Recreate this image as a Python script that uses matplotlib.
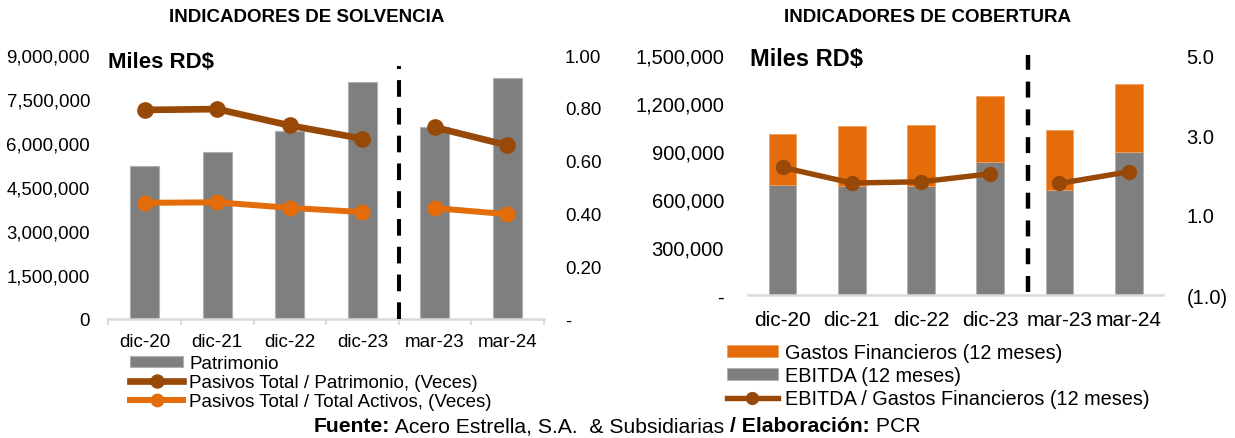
import matplotlib
matplotlib.use("Agg")
import matplotlib.pyplot as plt
import numpy as np
from matplotlib.ticker import FixedLocator, FuncFormatter

plt.rcParams['font.family'] = ['Liberation Sans', 'DejaVu Sans']
plt.rcParams['lines.scale_dashes'] = False

# ---------------- data ----------------
categories = ["dic-20", "dic-21", "dic-22", "dic-23", "mar-23", "mar-24"]

patrimonio = [5206000, 5690000, 6410000, 8070000, 6530000, 8230000]
pasivos_patrimonio = [0.792, 0.795, 0.733, 0.683, 0.726, 0.658]
pasivos_activos = [0.440, 0.442, 0.421, 0.405, 0.420, 0.397]

ebitda = [689000, 683000, 683000, 833000, 658000, 892000]
gastos_fin = [319000, 375000, 380000, 413000, 375000, 429000]
ebitda_gastos = [2.19, 1.80, 1.83, 2.03, 1.79, 2.08]

# ---------------- style ----------------
GRAY = '#7f7f7f'
BROWN = '#984807'
ORANGE = '#e46c0a'
AXGRAY = '#d9d9d9'

W, H = 1235, 439
fig = plt.figure(figsize=(W / 100, H / 100), dpi=100)


def px_axes(x0, x1, ytop, ybot):
    return fig.add_axes([x0 / W, (H - ybot) / H, (x1 - x0) / W, (ybot - ytop) / H])


x = np.arange(len(categories))
split = 4  # annual vs quarterly

# ================= LEFT: SOLVENCIA =================
axL = px_axes(108.5, 543.7, 56, 320)
axL.bar(x, patrimonio, width=0.4, color=GRAY, edgecolor='#b0b0b0', linewidth=0.8,
        label='Patrimonio', zorder=2)
axL.set_xlim(-0.5, 5.5)
axL.set_ylim(0, 9000000)
axL.yaxis.set_major_locator(FixedLocator(np.arange(0, 9000001, 1500000)))
axL.yaxis.set_major_formatter(FuncFormatter(lambda v, p: '0' if v == 0 else f'{v:,.0f}'))
axL.set_xticks(x)
axL.set_xticklabels(categories)
axL.set_xticks(np.arange(-0.5, 6, 1), minor=True)
axL.tick_params(axis='x', which='major', length=0, pad=10, labelsize=13.5)
axL.tick_params(axis='x', which='minor', length=4.5, width=1.5, color=AXGRAY)
axL.tick_params(axis='y', length=0, pad=13.3, labelsize=13.4)
for s in ['top', 'right', 'left']:
    axL.spines[s].set_visible(False)
axL.spines['bottom'].set_color(AXGRAY)
axL.spines['bottom'].set_linewidth(1.8)
axL.axvline(3.5, ymin=0, ymax=0.96, color='black', lw=2.9, dashes=(12, 8), zorder=5)

axL2 = axL.twinx()
axL2.set_ylim(0, 1.0)
axL2.yaxis.set_major_locator(FixedLocator(np.arange(0, 1.01, 0.2)))
axL2.yaxis.set_major_formatter(FuncFormatter(lambda v, p: '-' if abs(v) < 1e-9 else f'{v:.2f}'))
axL2.tick_params(axis='y', length=0, pad=15.3, labelsize=13.4)
for s in ['top', 'right', 'left', 'bottom']:
    axL2.spines[s].set_visible(False)

l1, = axL2.plot(x[:split], pasivos_patrimonio[:split], color=BROWN, lw=4.8, marker='o',
                ms=11, label='Pasivos Total / Patrimonio, (Veces)')
axL2.plot(x[split:], pasivos_patrimonio[split:], color=BROWN, lw=4.8, marker='o', ms=11)
l2, = axL2.plot(x[:split], pasivos_activos[:split], color=ORANGE, lw=4.3, marker='o',
                ms=10.5, label='Pasivos Total / Total Activos, (Veces)')
axL2.plot(x[split:], pasivos_activos[split:], color=ORANGE, lw=4.3, marker='o', ms=10.5)

fig.text(108.5 / W, (H - 62.7) / H, 'Miles RD$', fontsize=16, fontweight='bold', va='center')

fig.text(307 / W, (H - 17) / H, 'INDICADORES DE SOLVENCIA', fontsize=13.5,
         fontweight='bold', ha='center', va='center')

handlesL = [axL.containers[0], l1, l2]
legL = fig.legend(handles=handlesL, labels=[h.get_label() for h in handlesL],
                  loc='upper left', bbox_to_anchor=(130 / W, (H - 356) / H),
                  frameon=False, fontsize=13.5, handlelength=2.85, handleheight=0.5,
                  handletextpad=0.3, labelspacing=0.1, borderpad=0, borderaxespad=0,
                  markerscale=0.85)

# ================= RIGHT: COBERTURA =================
axR = px_axes(748, 1163.3, 56, 296)
b_eb = axR.bar(x, ebitda, width=0.4, color=GRAY, edgecolor='#b0b0b0', linewidth=0.6,
               label='EBITDA (12 meses)', zorder=2)
b_gf = axR.bar(x, gastos_fin, width=0.4, bottom=ebitda, color=ORANGE, edgecolor='#f0a060',
               linewidth=0.6, label='Gastos Financieros (12 meses)', zorder=2)
axR.set_xlim(-0.5, 5.5)
axR.set_ylim(0, 1500000)
axR.yaxis.set_major_locator(FixedLocator(np.arange(0, 1500001, 300000)))
axR.yaxis.set_major_formatter(FuncFormatter(lambda v, p: '-' if v == 0 else f'{v:,.0f}'))
axR.set_xticks(x)
axR.set_xticklabels(categories)
axR.tick_params(axis='x', length=0, pad=11, labelsize=15)
axR.tick_params(axis='y', length=0, pad=17.3, labelsize=14.5)
for s in ['top', 'right', 'left']:
    axR.spines[s].set_visible(False)
axR.spines['bottom'].set_color(AXGRAY)
axR.spines['bottom'].set_linewidth(1.8)
axR.axvline(3.55, ymin=0.0125, ymax=1.0, color='black', lw=3.2, dashes=(11.5, 8.5),
            zorder=5, clip_on=False)

axR2 = axR.twinx()
axR2.set_ylim(-1, 5)
axR2.yaxis.set_major_locator(FixedLocator([-1, 1, 3, 5]))
axR2.yaxis.set_major_formatter(FuncFormatter(lambda v, p: f'({abs(v):.1f})' if v < 0 else f'{v:.1f}'))
axR2.tick_params(axis='y', length=0, pad=16.6, labelsize=14.5)
for s in ['top', 'right', 'left', 'bottom']:
    axR2.spines[s].set_visible(False)
l3, = axR2.plot(x[:split], ebitda_gastos[:split], color=BROWN, lw=3.9, marker='o', ms=10,
                label='EBITDA / Gastos Financieros (12 meses)')
axR2.plot(x[split:], ebitda_gastos[split:], color=BROWN, lw=3.9, marker='o', ms=10)

fig.text(750 / W, (H - 60) / H, 'Miles RD$', fontsize=17, fontweight='bold', va='center')
fig.text(928 / W, (H - 17) / H, 'INDICADORES DE COBERTURA', fontsize=13.5,
         fontweight='bold', ha='center', va='center')

handlesR = [b_gf, b_eb, l3]
legR = fig.legend(handles=handlesR, labels=[h.get_label() for h in handlesR],
                  loc='upper left', bbox_to_anchor=(727 / W, (H - 344) / H),
                  frameon=False, fontsize=14.3, handlelength=2.55, handleheight=0.5,
                  handletextpad=0.35, labelspacing=0.2, borderpad=0, borderaxespad=0,
                  markerscale=0.85)

# ================= footer =================
fs = 15.2
t1 = fig.text(312 / W, (H - 427) / H, 'Fuente:', fontsize=fs, fontweight='bold', va='center')
t2 = axL.annotate(' Acero Estrella, S.A.  & Subsidiarias ', xy=(1, 0), xycoords=t1,
                  fontsize=fs, va='bottom', ha='left', annotation_clip=False)
t3 = axL.annotate('/ Elaboración:', xy=(1, 0), xycoords=t2,
                  fontsize=fs, fontweight='bold', va='bottom', ha='left', annotation_clip=False)
t4 = axL.annotate(' PCR', xy=(1, 0), xycoords=t3,
                  fontsize=fs, va='bottom', ha='left', annotation_clip=False)

# centre the footer line around x = 617 px
fig.canvas.draw()
r = fig.canvas.get_renderer()
x_left = t1.get_window_extent(r).x0
x_right = t4.get_window_extent(r).x1
shift = 617 - (x_left + x_right) / 2
t1.set_x((x_left + shift) / W)

fig.savefig('out.png', dpi=100)
